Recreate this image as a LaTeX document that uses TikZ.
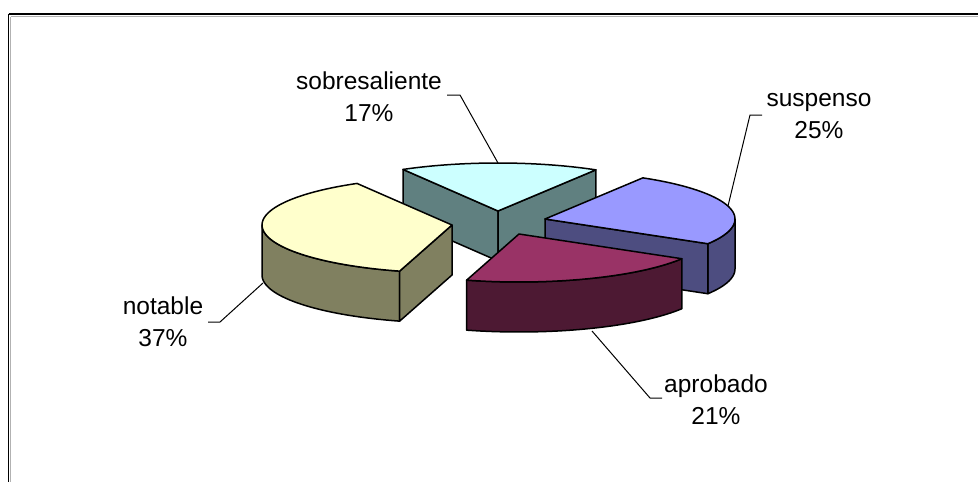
\documentclass[tikz,border=0pt]{standalone}
\usepackage{fontspec}
\setmainfont{Liberation Sans}
\definecolor{sobtop}{HTML}{CCFFFF}
\definecolor{sobside}{HTML}{608080}
\definecolor{nottop}{HTML}{FFFFCC}
\definecolor{notside}{HTML}{808060}
\definecolor{susptop}{HTML}{9999FF}
\definecolor{suspside}{HTML}{4D4D80}
\definecolor{aprtop}{HTML}{993366}
\definecolor{aprside}{HTML}{4D1933}
\begin{document}
\begin{tikzpicture}[x=1pt,y=-1pt,
  face/.style={draw=black,line width=1.5pt,line join=round},
  lbl/.style={align=center,font=\fontsize{24.5}{32}\selectfont,inner sep=0pt},
  leader/.style={draw=black,line width=1pt}]
\def\R{190}\def\r{48}\def\h{50}
\useasboundingbox (0,0) rectangle (978,482);
\fill[white] (0,0) rectangle (978,482);
% frame
\draw[gray!60,line width=1pt] (10.5,16.5) -- (978,16.5);
\draw[gray!60,line width=1pt] (10.5,16.5) -- (10.5,482);
\draw[black,line width=1.6pt] (8.5,14) -- (978,14);
\draw[black,line width=1.6pt] (8.5,14) -- (8.5,482);

% ---------- sobresaliente (center 498,211; 240..301)
\filldraw[face,fill=sobside] (498,211) -- ({498+\R*cos(240)},{211+\r*sin(240)}) -- ({498+\R*cos(240)},{211+\h+\r*sin(240)}) -- (498,211+\h) -- cycle;
\filldraw[face,fill=sobside] (498,211) -- ({498+\R*cos(301)},{211+\r*sin(301)}) -- ({498+\R*cos(301)},{211+\h+\r*sin(301)}) -- (498,211+\h) -- cycle;
\filldraw[face,fill=sobtop] (498,211) -- plot[domain=240:301,samples=40] ({498+\R*cos(\x)},{211+\r*sin(\x)}) -- cycle;

% ---------- notable (center 452,225; 106..240)
\filldraw[face,fill=notside] plot[domain=106:180,samples=40] ({452+\R*cos(\x)},{225+\r*sin(\x)}) -- plot[domain=180:106,samples=40] ({452+\R*cos(\x)},{225+\h+\r*sin(\x)}) -- cycle;
\filldraw[face,fill=notside] (452,225) -- ({452+\R*cos(106)},{225+\r*sin(106)}) -- ({452+\R*cos(106)},{225+\h+\r*sin(106)}) -- (452,225+\h) -- cycle;
\filldraw[face,fill=nottop] (452,225) -- plot[domain=106:240,samples=60] ({452+\R*cos(\x)},{225+\r*sin(\x)}) -- cycle;

% ---------- suspenso (center 545,219; -59..31)
\filldraw[face,fill=suspside] plot[domain=0:31,samples=30] ({545+\R*cos(\x)},{219+\r*sin(\x)}) -- plot[domain=31:0,samples=30] ({545+\R*cos(\x)},{219+\h+\r*sin(\x)}) -- cycle;
\filldraw[face,fill=suspside] (545,219) -- ({545+\R*cos(31)},{219+\r*sin(31)}) -- ({545+\R*cos(31)},{219+\h+\r*sin(31)}) -- (545,219+\h) -- cycle;
\filldraw[face,fill=susptop] (545,219) -- plot[domain=-59:31,samples=50] ({545+\R*cos(\x)},{219+\r*sin(\x)}) -- cycle;

% ---------- aprobado (center 519,234; 31..106)
\filldraw[face,fill=aprside] plot[domain=31:106,samples=40] ({519+\R*cos(\x)},{234+\r*sin(\x)}) -- plot[domain=106:31,samples=40] ({519+\R*cos(\x)},{234+\h+\r*sin(\x)}) -- cycle;
\filldraw[face,fill=aprtop] (519,234) -- plot[domain=31:106,samples=40] ({519+\R*cos(\x)},{234+\r*sin(\x)}) -- cycle;

% ---------- labels
\node[lbl] (lsob) at (369,97) {sobresaliente\\17\%};
\node[lbl] (lsus) at (819,116) {suspenso\\25\%};
\node[lbl] (lnot) at (163,322) {notable\\37\%};
\node[lbl] (lapr) at (716,400) {aprobado\\21\%};

% ---------- leader lines
\coordinate (sA) at (447,95); \coordinate (sB) at (460,95); \coordinate (sC) at (498,163);
\coordinate (uA) at (762,115); \coordinate (uB) at (750,115); \coordinate (uC) at (728,206);
\coordinate (nA) at (208,322); \coordinate (nB) at (220,322); \coordinate (nC) at (263,283);
\coordinate (aA) at (662,398); \coordinate (aB) at (650,398); \coordinate (aC) at (592,331);
\draw[leader] (sA) -- (sB) -- (sC);
\draw[leader] (uA) -- (uB) -- (uC);
\draw[leader] (nA) -- (nB) -- (nC);
\draw[leader] (aA) -- (aB) -- (aC);
\end{tikzpicture}
\end{document}
